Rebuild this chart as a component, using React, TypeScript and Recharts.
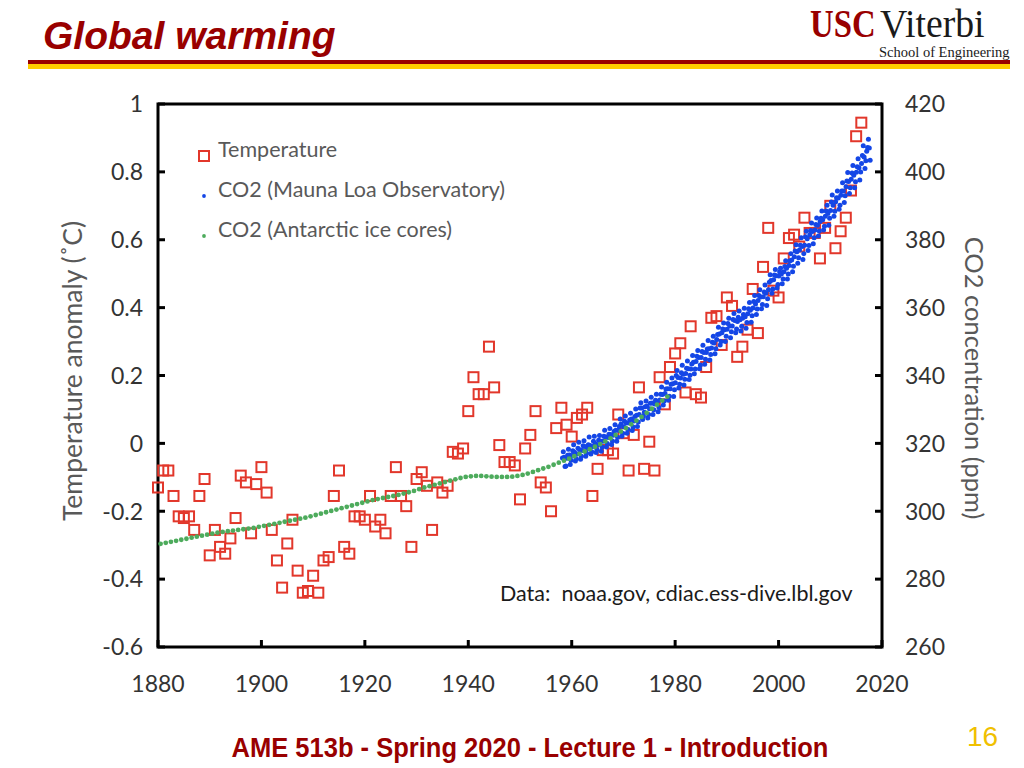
import React from "react";
import { ScatterChart, Scatter, XAxis, YAxis, ReferenceArea } from "recharts";

// Annual temperature anomaly (°C), one value per year starting 1880
const TEMP_START = 1880;
const tempAnomaly = [
  -0.13, -0.08, -0.08, -0.155, -0.215, -0.22, -0.215, -0.255, -0.155, -0.105,
  -0.33, -0.255, -0.305, -0.325, -0.28, -0.22, -0.095, -0.115, -0.265, -0.12,
  -0.07, -0.145, -0.255, -0.345, -0.425, -0.295, -0.225, -0.375, -0.44, -0.435,
  -0.39, -0.44, -0.345, -0.335, -0.155, -0.08, -0.305, -0.325, -0.215, -0.215,
  -0.225, -0.155, -0.245, -0.225, -0.265, -0.155, -0.07, -0.155, -0.185, -0.305,
  -0.105, -0.085, -0.125, -0.255, -0.115, -0.145, -0.125, -0.025, -0.03, -0.015,
  0.095, 0.195, 0.145, 0.145, 0.285, 0.165, -0.005, -0.055, -0.055, -0.065,
  -0.165, -0.015, 0.025, 0.095, -0.115, -0.13, -0.2, 0.045, 0.105, 0.055,
  0.02, 0.075, 0.085, 0.105, -0.155, -0.075, -0.02, -0.02, -0.03, 0.085,
  0.03, -0.08, 0.025, 0.165, -0.075, 0.005, -0.08, 0.195, 0.115, 0.225,
  0.265, 0.295, 0.15, 0.345, 0.145, 0.135, 0.225, 0.37, 0.375, 0.29,
  0.43, 0.405, 0.255, 0.285, 0.335, 0.455, 0.325, 0.52, 0.635, 0.45,
  0.43, 0.545, 0.605, 0.615, 0.58, 0.665, 0.62, 0.62, 0.545, 0.635,
  0.7, 0.575, 0.625, 0.665, 0.745, 0.905, 0.945,
];

// Antarctic ice core CO2 (ppm), one value per year starting 1880
const ICE_START = 1880;
const iceCoreCo2 = [
  290.4, 290.7, 291.0, 291.3, 291.6, 291.9, 292.2, 292.5, 292.8, 293.1,
  293.4, 293.7, 293.9, 294.1, 294.3, 294.5, 294.7, 294.9, 295.1, 295.4,
  295.7, 296.0, 296.3, 296.6, 296.9, 297.2, 297.5, 297.8, 298.1, 298.5,
  298.9, 299.3, 299.7, 300.1, 300.5, 300.9, 301.3, 301.7, 302.1, 302.5,
  302.9, 303.3, 303.6, 303.9, 304.2, 304.5, 304.8, 305.2, 305.6, 306.0,
  306.5, 307.0, 307.4, 307.8, 308.2, 308.6, 309.0, 309.4, 309.8, 310.1,
  310.3, 310.4, 310.4, 310.3, 310.2, 310.1, 310.1, 310.1, 310.2, 310.4,
  310.7, 311.1, 311.6, 312.1, 312.6, 313.1, 313.7, 314.3, 314.9, 315.5,
  316.2, 316.9, 317.6, 318.3, 319.0, 319.8, 320.6, 321.5, 322.5, 323.5,
  324.5, 325.6, 326.7, 327.8, 329.0, 330.2, 331.4, 332.6, 333.8,
];

// Mauna Loa CO2 (ppm): [year, Jan, Mar, May, Jul, Sep, Nov]
const maunaLoaMonths = [1, 3, 5, 7, 9, 11];
const maunaLoa: (number | null)[][] = [
  [1958, null, 315.7, 317.5, 315.9, 313.2, 313.3],
  [1959, 315.6, 316.5, 318.3, 316.6, 313.8, 315.0],
  [1960, 316.4, 317.8, 319.6, 317.4, 314.8, 315.5],
  [1961, 316.9, 318.6, 320.3, 318.1, 315.3, 316.2],
  [1962, 317.9, 319.3, 320.8, 319.1, 316.2, 317.1],
  [1963, 318.5, 319.6, 321.9, 319.4, 316.9, 317.5],
  [1964, 319.1, 320.6, 322.1, 320.0, 317.3, 318.2],
  [1965, 319.6, 320.9, 322.3, 320.7, 317.7, 318.9],
  [1966, 320.6, 322.1, 323.9, 321.9, 318.9, 320.0],
  [1967, 321.7, 322.7, 324.4, 322.6, 319.7, 320.7],
  [1968, 322.4, 323.6, 325.5, 323.9, 320.6, 321.8],
  [1969, 323.9, 325.0, 327.2, 325.7, 322.1, 323.0],
  [1970, 324.9, 326.5, 328.1, 326.0, 323.0, 324.1],
  [1971, 326.0, 326.9, 328.9, 327.2, 323.8, 324.8],
  [1972, 326.6, 327.9, 330.1, 328.3, 325.0, 326.3],
  [1973, 328.5, 330.4, 332.0, 330.4, 327.0, 328.1],
  [1974, 329.2, 330.8, 332.5, 331.0, 327.5, 328.5],
  [1975, 330.2, 331.8, 333.6, 331.9, 328.5, 329.9],
  [1976, 331.6, 332.7, 334.5, 332.4, 329.3, 330.6],
  [1977, 332.8, 334.5, 336.6, 334.4, 331.3, 332.5],
  [1978, 334.7, 336.0, 338.0, 336.1, 332.7, 333.9],
  [1979, 336.1, 337.4, 339.3, 337.6, 333.8, 335.8],
  [1980, 337.9, 340.0, 341.5, 339.4, 336.3, 337.4],
  [1981, 339.3, 340.8, 343.0, 340.4, 337.2, 338.9],
  [1982, 340.6, 342.1, 344.3, 342.0, 338.8, 340.1],
  [1983, 341.9, 343.4, 345.9, 343.9, 340.5, 341.9],
  [1984, 344.1, 345.7, 347.4, 345.3, 342.0, 343.1],
  [1985, 345.3, 347.1, 348.9, 346.8, 343.3, 344.8],
  [1986, 346.8, 347.8, 350.3, 347.9, 344.6, 346.2],
  [1987, 348.1, 349.8, 351.6, 349.6, 346.4, 347.9],
  [1988, 350.6, 352.1, 354.2, 352.2, 349.0, 350.0],
  [1989, 352.6, 353.7, 355.5, 353.5, 350.0, 351.6],
  [1990, 353.6, 355.3, 356.9, 354.6, 351.1, 352.9],
  [1991, 354.6, 356.5, 358.3, 356.2, 352.6, 353.7],
  [1992, 355.9, 357.2, 359.0, 356.4, 353.1, 354.5],
  [1993, 356.9, 358.0, 359.8, 357.3, 353.9, 355.6],
  [1994, 358.2, 359.7, 361.5, 359.2, 355.7, 357.6],
  [1995, 359.9, 361.8, 363.6, 361.1, 358.0, 359.6],
  [1996, 362.1, 363.6, 365.3, 363.1, 359.7, 360.9],
  [1997, 363.2, 364.6, 366.7, 364.2, 360.6, 362.6],
  [1998, 365.3, 367.5, 369.7, 368.0, 364.2, 365.5],
  [1999, 368.2, 369.6, 371.2, 369.4, 365.8, 366.8],
  [2000, 369.3, 370.6, 371.6, 369.9, 367.0, 368.4],
  [2001, 370.6, 372.1, 373.8, 371.6, 368.4, 369.9],
  [2002, 372.4, 373.8, 375.9, 374.0, 370.6, 372.2],
  [2003, 375.0, 376.7, 378.5, 376.5, 373.1, 374.7],
  [2004, 377.0, 378.4, 380.6, 378.0, 374.2, 375.9],
  [2005, 378.4, 380.9, 382.5, 380.3, 376.8, 378.3],
  [2006, 381.4, 382.7, 384.9, 382.4, 378.8, 380.6],
  [2007, 382.9, 384.5, 386.4, 384.3, 381.1, 382.6],
  [2008, 385.4, 386.3, 388.5, 385.9, 382.9, 384.0],
  [2009, 386.9, 388.5, 390.2, 387.7, 384.3, 386.3],
  [2010, 388.6, 391.1, 393.2, 390.2, 386.9, 388.4],
  [2011, 391.2, 392.4, 394.4, 392.3, 389.0, 390.2],
  [2012, 393.1, 394.4, 396.8, 394.4, 391.0, 393.0],
  [2013, 395.6, 397.3, 399.8, 397.2, 393.6, 395.3],
  [2014, 397.8, 399.7, 401.9, 399.0, 395.3, 397.1],
  [2015, 399.9, 401.5, 403.9, 401.2, 397.6, 400.0],
  [2016, 402.5, 404.8, 407.7, 404.4, 401.0, 403.3],
  [2017, 406.1, 407.2, 409.6, 407.0, 403.4, null],
];

const yearTicks = [1880, 1900, 1920, 1940, 1960, 1980, 2000, 2020];
const tempTicks = [-0.6, -0.4, -0.2, 0, 0.2, 0.4, 0.6, 0.8, 1];
const co2Ticks = [260, 280, 300, 320, 340, 360, 380, 400, 420];

const legendItems = [
  { name: "Temperature", kind: "square" },
  { name: "CO2 (Mauna Loa Observatory)", kind: "blue" },
  { name: "CO2 (Antarctic ice cores)", kind: "green" },
];

const RED = "#e2372b";
const BLUE = "#1446e6";
const GREEN = "#4dab5c";
const TICK_COLOR = "#333333";
const LABEL_COLOR = "#595959";
const DARK_RED = "#990000";

const tempData = tempAnomaly.map((t, i) => ({ x: TEMP_START + i, y: t }));
const iceData = iceCoreCo2.map((c, i) => ({ x: ICE_START + i + 0.5, y: c }));
const maunaData: { x: number; y: number }[] = [];
maunaLoa.forEach((row) => {
  const year = row[0] as number;
  maunaLoaMonths.forEach((m, k) => {
    const v = row[k + 1];
    if (v != null) maunaData.push({ x: year + (m - 0.5) / 12, y: v });
  });
});

const fmt = (v: number) => String(Math.round(v * 10) / 10);

const tickFont = { fontFamily: "Lato", fontSize: 23, fill: TICK_COLOR };

const LeftTick = (p: any) => (
  <g>
    <line x1={p.x + 15} x2={p.x + 22} y1={p.y} y2={p.y} stroke="#000" strokeWidth={3} />
    <text x={p.x} y={p.y} dy="0.36em" textAnchor="end" {...tickFont}>
      {fmt(p.payload.value)}
    </text>
  </g>
);

const RightTick = (p: any) => (
  <g>
    <line x1={p.x - 30} x2={p.x - 23} y1={p.y} y2={p.y} stroke="#000" strokeWidth={3} />
    <text x={p.x} y={p.y} dy="0.36em" textAnchor="start" {...tickFont}>
      {p.payload.value}
    </text>
  </g>
);

const BottomTick = (p: any) => (
  <g>
    <line x1={p.x} x2={p.x} y1={p.y - 37} y2={p.y - 44} stroke="#000" strokeWidth={3} />
    <text x={p.x} y={p.y} dy="0.36em" textAnchor="middle" {...tickFont}>
      {p.payload.value}
    </text>
  </g>
);

const Square = (p: any) => (
  <rect x={p.cx - 5} y={p.cy - 5} width={10} height={10} fill="none" stroke={RED} strokeWidth={2} />
);
const BlueDot = (p: any) => <circle cx={p.cx} cy={p.cy} r={2.5} fill={BLUE} />;
const GreenDot = (p: any) => <circle cx={p.cx} cy={p.cy} r={2.4} fill={GREEN} />;

function LegendMarker({ kind }: { kind: string }) {
  if (kind === "square")
    return (
      <svg width={14} height={14}>
        <rect x={2} y={2} width={10} height={10} fill="none" stroke={RED} strokeWidth={2} />
      </svg>
    );
  return (
    <svg width={14} height={14}>
      <circle cx={7} cy={7} r={1.9} fill={kind === "blue" ? BLUE : GREEN} />
    </svg>
  );
}

export default function App() {
  return (
    <div
      style={{
        position: "fixed",
        left: 0,
        top: 0,
        width: 1024,
        height: 768,
        background: "#fff",
        overflow: "hidden",
        fontFamily: "Lato",
      }}
    >
      {/* slide header */}
      <div
        style={{
          position: "absolute",
          left: 43,
          top: 14,
          fontFamily: "Liberation Sans",
          fontWeight: "bold",
          fontStyle: "italic",
          fontSize: 39,
          color: DARK_RED,
          whiteSpace: "nowrap",
        }}
      >
        Global warming
      </div>
      <div style={{ position: "absolute", left: 28, top: 60, width: 982, height: 4, background: DARK_RED }} />
      <div style={{ position: "absolute", left: 28, top: 64, width: 982, height: 5, background: "#ffcc00" }} />
      <div
        style={{
          position: "absolute",
          left: 810,
          top: 0,
          fontFamily: "Liberation Serif",
          fontSize: 41,
          lineHeight: "47px",
          whiteSpace: "nowrap",
        }}
      >
        <span
          style={{
            display: "inline-block",
            color: DARK_RED,
            fontWeight: "bold",
            transform: "scaleX(0.8)",
            transformOrigin: "left",
            width: 70,
          }}
        >
          USC
        </span>
        <span
          style={{
            display: "inline-block",
            color: "#1a1a1a",
            transform: "scaleX(0.92)",
            transformOrigin: "left",
          }}
        >
          Viterbi
        </span>
      </div>
      <div
        style={{
          position: "absolute",
          left: 879,
          top: 44,
          fontFamily: "Liberation Serif",
          fontSize: 14.5,
          color: "#1a1a1a",
          whiteSpace: "nowrap",
        }}
      >
        School of Engineering
      </div>

      <ScatterChart
        width={1024}
        height={768}
        margin={{ top: 104, left: 98, right: 82, bottom: 81 }}
        style={{ position: "absolute", left: 0, top: 0 }}
      >
        <XAxis
          dataKey="x"
          type="number"
          domain={[1880, 2020]}
          ticks={yearTicks}
          height={40}
          tickSize={0}
          tickMargin={37}
          axisLine={false}
          tick={<BottomTick />}
          interval={0}
        />
        <YAxis
          yAxisId="temp"
          dataKey="y"
          type="number"
          domain={[-0.6, 1]}
          ticks={tempTicks}
          width={60}
          tickSize={0}
          tickMargin={15}
          axisLine={false}
          tick={<LeftTick />}
          interval={0}
        />
        <YAxis
          yAxisId="co2"
          orientation="right"
          dataKey="y"
          type="number"
          domain={[260, 420]}
          ticks={co2Ticks}
          width={60}
          tickSize={0}
          tickMargin={23}
          axisLine={false}
          tick={<RightTick />}
          interval={0}
        />
        <Scatter
          name="Temperature"
          yAxisId="temp"
          data={tempData}
          shape={<Square />}
          isAnimationActive={false}
        />
        <Scatter
          name="CO2 (Mauna Loa Observatory)"
          yAxisId="co2"
          data={maunaData}
          shape={<BlueDot />}
          isAnimationActive={false}
        />
        <Scatter
          name="CO2 (Antarctic ice cores)"
          yAxisId="co2"
          data={iceData}
          shape={<GreenDot />}
          isAnimationActive={false}
        />
        <ReferenceArea
          yAxisId="temp"
          x1={1880}
          x2={2020}
          y1={-0.6}
          y2={1}
          fill="none"
          fillOpacity={0}
          stroke="#000"
          strokeWidth={3}
          ifOverflow="visible"
        />
      </ScatterChart>

      {/* legend inside plot */}
      <div style={{ position: "absolute", left: 197, top: 136 }}>
        {legendItems.map((it) => (
          <div
            key={it.name}
            style={{ display: "flex", alignItems: "center", height: 40, color: LABEL_COLOR, fontSize: 21.5 }}
          >
            <LegendMarker kind={it.kind} />
            <span style={{ marginLeft: 7, marginTop: -14 }}>{it.name}</span>
          </div>
        ))}
      </div>

      <div
        style={{
          position: "absolute",
          left: 500,
          top: 580,
          fontSize: 21.5,
          color: "#1a1a1a",
          whiteSpace: "pre",
        }}
      >
        {"Data:  noaa.gov, cdiac.ess-dive.lbl.gov"}
      </div>

      {/* axis titles */}
      <div
        style={{
          position: "absolute",
          left: 72,
          top: 371,
          transform: "translate(-50%, -50%) rotate(-90deg)",
          whiteSpace: "nowrap",
          fontSize: 26.5,
          color: LABEL_COLOR,
        }}
      >
        Temperature anomaly (˚C)
      </div>
      <div
        style={{
          position: "absolute",
          left: 975,
          top: 378,
          transform: "translate(-50%, -50%) rotate(90deg)",
          whiteSpace: "nowrap",
          fontSize: 25.5,
          color: LABEL_COLOR,
        }}
      >
        CO2 concentration (ppm)
      </div>

      {/* footer */}
      <div
        style={{
          position: "absolute",
          left: 530,
          top: 733,
          transform: "translateX(-50%) scaleX(0.945)",
          fontFamily: "Liberation Sans",
          fontWeight: "bold",
          fontSize: 27,
          color: DARK_RED,
          whiteSpace: "nowrap",
        }}
      >
        AME 513b - Spring 2020 - Lecture 1 - Introduction
      </div>
      <div
        style={{
          position: "absolute",
          left: 967,
          top: 721,
          fontFamily: "Liberation Sans",
          fontSize: 28,
          color: "#f0c000",
        }}
      >
        16
      </div>
    </div>
  );
}
